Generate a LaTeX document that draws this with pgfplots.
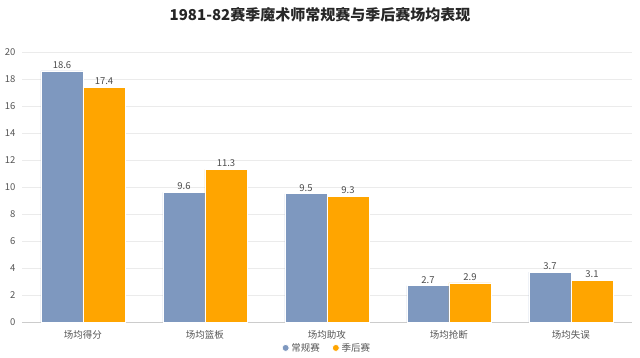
\documentclass[border=0pt]{standalone}
\usepackage{fontspec}
\setmainfont{Noto Sans CJK SC}
\usepackage{pgfplots}
\pgfplotsset{compat=1.18}
\definecolor{cblue}{HTML}{7E98BF}
\definecolor{corange}{HTML}{FFA500}
\definecolor{tickgray}{HTML}{555555}
\definecolor{gridgray}{HTML}{EBEBEB}
\begin{document}
\begin{tikzpicture}
\begin{axis}[
  scale only axis, width=610pt, height=270pt,
  xmin=-0.5, xmax=4.5, ymin=0, ymax=20,
  ybar, bar width=42pt,
  xtick={0,1,2,3,4},
  xticklabels={场均得分,场均篮板,场均助攻,场均抢断,场均失误},
  ytick={0,2,...,20},
  /pgf/number format/assume math mode=true,
  tick style={draw=none},
  axis line style={draw=none},
  axis x line*=bottom,
  ymajorgrids, grid style={gridgray, line width=0.6pt},
  ticklabel style={font=\fontsize{9.5}{11}\selectfont, text=tickgray},
  yticklabel style={xshift=-3pt},
  xticklabel style={yshift=-1pt},
  nodes near coords,
  nodes near coords style={font=\fontsize{9.5}{11}\selectfont, text=black!70, inner sep=2pt, /pgf/number format/fixed, /pgf/number format/fixed zerofill, /pgf/number format/precision=1, /pgf/number format/assume math mode=true},
  legend style={at={(axis description cs:0.5,-0.096)}, anchor=center, draw=none, legend columns=2, font=\fontsize{9.5}{11}\selectfont, text=tickgray, /tikz/every even column/.append style={column sep=10pt}},
  legend image code/.code={\fill[#1] (0.15cm,0cm) circle (3.5pt);},
  clip=false,
]
\draw[gray!40, line width=0.8pt] (axis cs:-0.5,0) -- (axis cs:4.5,0);
\addplot[fill=cblue, draw=white, line width=0.7pt, bar shift=-21pt] coordinates {(0,18.6) (1,9.6) (2,9.5) (3,2.7) (4,3.7)};
\addplot[fill=corange, draw=white, line width=0.7pt, bar shift=21pt] coordinates {(0,17.4) (1,11.3) (2,9.3) (3,2.9) (4,3.1)};
\legend{常规赛,季后赛}
\end{axis}
\node[font=\fontsize{15}{18}\selectfont\bfseries, text=black!85] at (298pt,307pt) {1981-82赛季魔术师常规赛与季后赛场均表现};
\path[use as bounding box] (-22pt,-35pt) rectangle (618pt,322pt);
\end{tikzpicture}
\end{document}
